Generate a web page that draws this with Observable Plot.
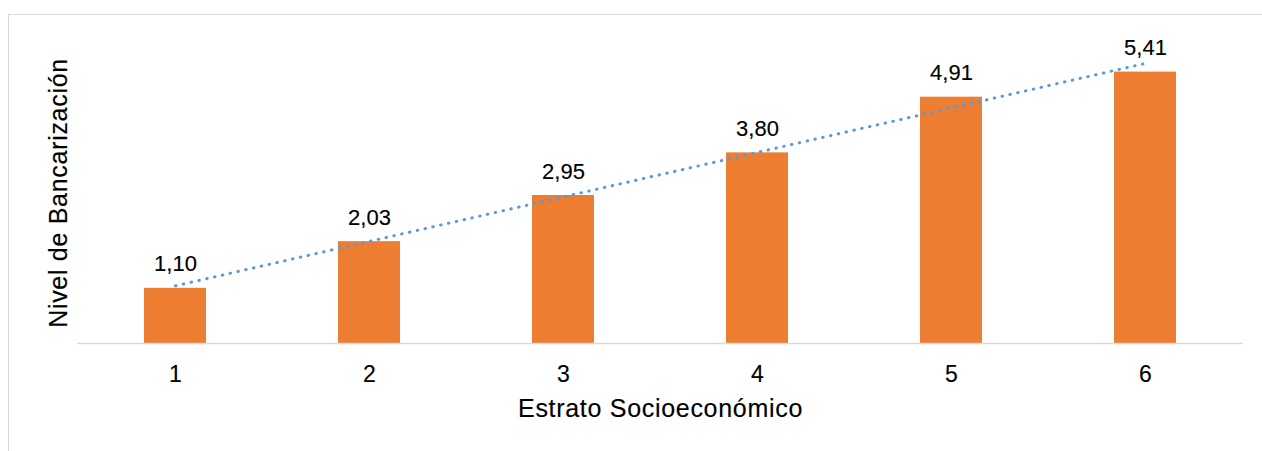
<!DOCTYPE html>
<html>
<head>
<meta charset="utf-8">
<script src="https://cdn.jsdelivr.net/npm/d3@7"></script>
<script src="https://cdn.jsdelivr.net/npm/@observablehq/plot@0.6"></script>
<style>
  html, body { margin: 0; padding: 0; background: #fff; overflow: hidden; width: 1262px; height: 451px; }
  #border { position: absolute; left: 8px; top: 14px; width: 1400px; height: 600px; border: 1px solid #d9d9d9; box-sizing: border-box; }
  #chart { position: absolute; left: 0; top: 0; }
  .axis-title { letter-spacing: 0.7px; }
  #chart svg text { stroke: #000; stroke-width: 0.15px; }
</style>
</head>
<body>
<div id="border"></div>
<div id="chart"></div>
<script>
const categories = ["1", "2", "3", "4", "5", "6"];
const values = [1.10, 2.03, 2.95, 3.80, 4.91, 5.41];
const xTitle = "Estrato Socioeconómico";
const yTitle = "Nivel de Bancarización";

const data = categories.map((c, i) => ({estrato: c, valor: values[i], idx: i + 1}));

// least-squares linear trend (as in the spreadsheet trendline)
const mx = d3.mean(data, d => d.idx), my = d3.mean(data, d => d.valor);
const slope = d3.sum(data, d => (d.idx - mx) * (d.valor - my)) / d3.sum(data, d => (d.idx - mx) ** 2);
const intercept = my - slope * mx;
const trend = data.map(d => ({estrato: d.estrato, valor: intercept + slope * d.idx}));

const fmt = v => v.toFixed(2).replace(".", ",");

const chart = Plot.plot({
  width: 1262,
  height: 451,
  marginLeft: 77,
  marginRight: 19,
  marginTop: 42,
  marginBottom: 108,
  style: {fontFamily: "'Liberation Sans', Arial, sans-serif", fontSize: "22px", background: "transparent", color: "#000"},
  x: {domain: categories, paddingInner: 0.68, paddingOuter: 0.34, label: null},
  y: {domain: [0, 6], axis: null},
  marks: [
    Plot.barY(data, {x: "estrato", y: "valor", fill: "#ED7D31"}),
    Plot.ruleY([0], {stroke: "#d9d9d9", strokeWidth: 1.3}),
    Plot.line(trend, {x: "estrato", y: "valor", stroke: "#5B9BD5", strokeWidth: 3, strokeDasharray: "0.5 7.5", strokeLinecap: "round"}),
    Plot.text(data, {x: "estrato", y: "valor", text: d => fmt(d.valor), dy: -24, fill: "#000", fontSize: 22}),
    Plot.axisX({tickSize: 0, tickPadding: 22, label: null, fontSize: 23, fill: "#000"}),
    Plot.text([xTitle], {frameAnchor: "bottom", textAnchor: "middle", lineAnchor: "middle", dy: 65, fill: "#000", fontSize: 25, className: "axis-title"}),
    Plot.text([yTitle], {frameAnchor: "left", textAnchor: "middle", lineAnchor: "middle", dx: -19, rotate: -90, fill: "#000", fontSize: 25, className: "axis-title"})
  ]
});
document.getElementById("chart").appendChild(chart);
</script>
</body>
</html>
